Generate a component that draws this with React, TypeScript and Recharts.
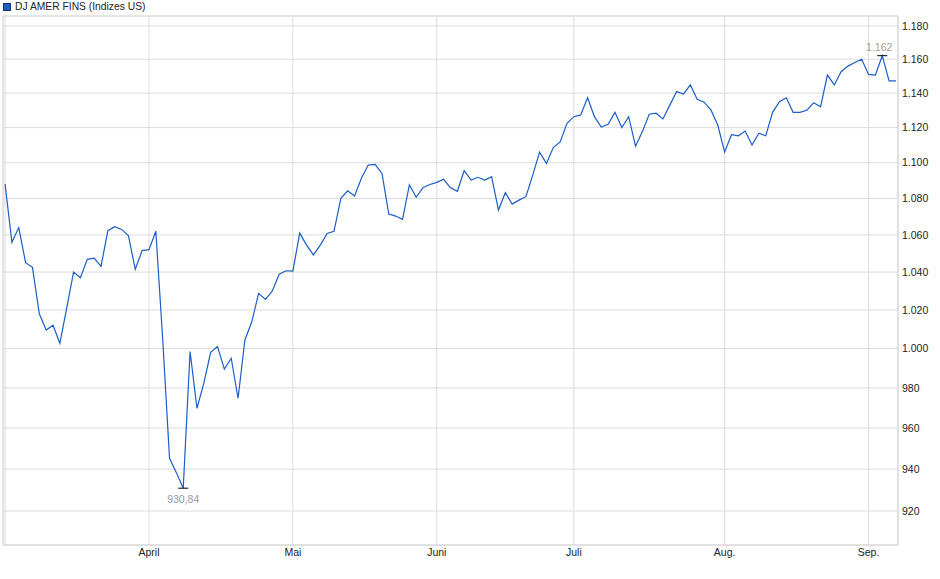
import React from 'react';
import {
  ComposedChart,
  Line,
  XAxis,
  YAxis,
  CartesianGrid,
  ReferenceArea,
  ReferenceLine,
  ReferenceDot,
} from 'recharts';

// Daily closes (trading days, early March to early September)
const values: number[] = [
  1088, 1056, 1064, 1045, 1042.5, 1018, 1009.5, 1012, 1002.7, 1021,
  1040, 1037, 1046.8, 1047.4, 1043, 1062.3, 1064.5, 1063, 1059.6, 1041.5,
  1051.5, 1052, 1062, 1005, 945.2, 938.3, 930.84, 998.4, 969.8, 982.3,
  998, 1001, 989.5, 995, 974.8, 1004.4, 1013.8, 1028.7, 1025.5, 1030,
  1038.8, 1040.7, 1040.5, 1061, 1054.5, 1049.2, 1054.5, 1060.8, 1062, 1080.1,
  1084.3, 1081.4, 1091.3, 1098.7, 1099, 1094, 1071.4, 1070.3, 1068.5, 1087.5,
  1080.7, 1086.1, 1087.8, 1089, 1090.7, 1085.9, 1084, 1095.6, 1090.3, 1091.8,
  1090.3, 1092.2, 1073.6, 1083.2, 1076.9, 1079.1, 1081, 1093, 1106, 1099.6,
  1108.6, 1111.8, 1122.5, 1126.3, 1127.3, 1137.3, 1126.3, 1120.3, 1121.9, 1128.8,
  1120, 1126.3, 1109.4, 1117.7, 1127.7, 1128.3, 1125, 1133, 1140.9, 1139.5,
  1144.8, 1136.4, 1134.7, 1130.2, 1121.5, 1106, 1115.9, 1115.3, 1118, 1110,
  1116.8, 1115.3, 1128.8, 1135, 1137.3, 1128.8, 1128.8, 1130, 1134.4, 1132,
  1150.6, 1144.8, 1152.6, 1155.9, 1158, 1160, 1151, 1150.6, 1162.1, 1147.2,
  1147.2,
];

// Month start positions (trading-day index) and their labels
const monthTickIndex: number[] = [21, 42, 63, 83, 105, 126];
const monthLabels: string[] = ['April', 'Mai', 'Juni', 'Juli', 'Aug.', 'Sep.'];

// Y axis ticks
const yTicks: number[] = [920, 940, 960, 980, 1000, 1020, 1040, 1060, 1080, 1100, 1120, 1140, 1160, 1180];

const seriesName = 'DJ AMER FINS (Indizes US)';

const data = values.map((v, i) => ({ i, v }));

const X_MIN = -0.3;
const X_MAX = 130.3;
const Y_MIN = 904.1;
const Y_MAX = 1186;

const LINE_COLOR = '#1d5dc8';
const GRID = '#dcdcdc';
const FONT = '"Liberation Sans", Arial, sans-serif';

const fmtThousands = (v: number) => {
  const r = Math.round(v);
  if (r >= 1000) {
    return `${Math.floor(r / 1000)}.${String(r % 1000).padStart(3, '0')}`;
  }
  return String(r);
};

const fmtDecimal = (v: number) => {
  if (v >= 1000) return fmtThousands(v);
  return v.toFixed(2).replace('.', ',');
};

let minIdx = 0;
let maxIdx = 0;
values.forEach((v, i) => {
  if (v < values[minIdx]) minIdx = i;
  if (v > values[maxIdx]) maxIdx = i;
});

const MinShape = (props: any) => {
  const { cx, cy } = props;
  return (
    <g>
      <line x1={cx - 5} x2={cx + 5} y1={cy} y2={cy} stroke="#000" strokeWidth={1} />
      <text
        x={cx}
        y={cy + 11}
        textAnchor="middle"
        dominantBaseline="central"
        fontSize={10.5}
        fontFamily={FONT}
        fill="#9a9a9a"
      >
        {fmtDecimal(values[minIdx])}
      </text>
    </g>
  );
};

const MaxShape = (props: any) => {
  const { cx, cy } = props;
  return (
    <g>
      <line x1={cx - 5} x2={cx + 5} y1={cy} y2={cy} stroke="#000" strokeWidth={1} />
      <text
        x={cx - 3}
        y={cy - 9}
        textAnchor="middle"
        dominantBaseline="central"
        fontSize={10.5}
        fontFamily={FONT}
        fill="#a99c96"
      >
        {fmtDecimal(values[maxIdx])}
      </text>
    </g>
  );
};

export default function App() {
  return (
    <div style={{ position: 'absolute', left: 0, top: 0, width: 940, height: 579, background: '#fff' }}>
      <div
        style={{
          position: 'absolute',
          left: 3,
          top: 0,
          height: 13,
          display: 'flex',
          alignItems: 'center',
          fontFamily: FONT,
          fontSize: 10.3,
          color: '#222',
          whiteSpace: 'nowrap',
        }}
      >
        <span
          style={{
            display: 'inline-block',
            width: 6,
            height: 6,
            background: LINE_COLOR,
            border: '1px solid #17336e',
            marginRight: 4,
          }}
        />
        <span>{seriesName}</span>
      </div>
      <ComposedChart
        width={940}
        height={579}
        data={data}
        margin={{ top: 16, right: 0, bottom: 0, left: 3 }}
      >
        <CartesianGrid stroke={GRID} strokeWidth={1} />
        <ReferenceArea
          x1={X_MIN}
          x2={X_MAX}
          y1={Y_MIN}
          y2={Y_MAX}
          fill="none"
          stroke={GRID}
          strokeWidth={1}
          fillOpacity={0}
          ifOverflow="visible"
        />
        <ReferenceLine x={0} stroke={GRID} strokeWidth={1} />
        <XAxis
          dataKey="i"
          type="number"
          domain={[X_MIN, X_MAX]}
          allowDataOverflow
          ticks={monthTickIndex}
          tickFormatter={(v: number) => monthLabels[monthTickIndex.indexOf(v)] ?? ''}
          axisLine={{ stroke: GRID }}
          tickLine={false}
          tickSize={0}
          tickMargin={4}
          height={34}
          interval={0}
          tick={{ fontSize: 10.5, fontFamily: FONT, fill: '#222' }}
        />
        <YAxis
          orientation="right"
          scale="log"
          domain={[Y_MIN, Y_MAX]}
          allowDataOverflow
          ticks={yTicks}
          tickFormatter={fmtThousands}
          axisLine={{ stroke: GRID }}
          tickLine={false}
          tickSize={0}
          tickMargin={4}
          width={42}
          interval={0}
          tick={{ fontSize: 10.5, fontFamily: FONT, fill: '#222', textAnchor: 'start' }}
        />
        <Line
          type="linear"
          dataKey="v"
          stroke={LINE_COLOR}
          strokeWidth={1.2}
          dot={false}
          activeDot={false}
          isAnimationActive={false}
        />
        <ReferenceDot x={minIdx} y={values[minIdx]} shape={MinShape} ifOverflow="visible" />
        <ReferenceDot x={maxIdx} y={values[maxIdx]} shape={MaxShape} ifOverflow="visible" />
      </ComposedChart>
    </div>
  );
}
